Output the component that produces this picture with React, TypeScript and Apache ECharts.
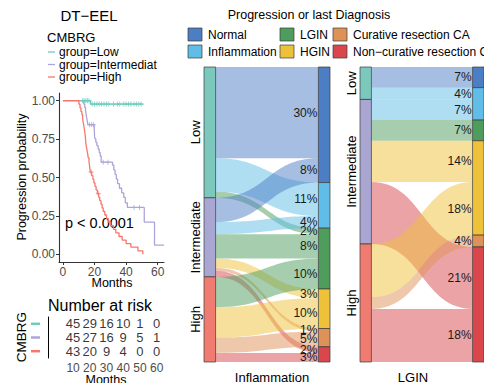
import React, { useEffect, useRef } from 'react';
import * as echarts from 'echarts';

const FONT = '"Liberation Sans", Arial, Helvetica, sans-serif';

// ---------- Kaplan–Meier: progression-free probability by CMBRG group ----------
const groupNames = ['Low', 'Intermediate', 'High'];
const groupColors = ['#6FCBBE', '#ADA5DA', '#F8766D'];

const lowTimes = [0, 17.5, 51];
const lowSurv = [1, 0.978, 0.978];
const lowCensor = [12.5, 13.5, 14.5, 15.5, 16.5, 18.5, 20, 21.5, 23, 24.5, 26, 27.5, 29, 32, 34.5, 36, 38.5, 40, 41.5, 43, 45, 46.5, 48, 49.5];

const intTimes = [0, 13.2, 13.8, 14.3, 14.7, 15.0, 15.4, 15.8, 19.8, 19.9, 20.0, 20.2, 20.8, 21.5, 22.3, 23.0, 23.6, 24.2, 31.4, 32.2, 33.0, 33.8, 34.6, 35.8, 37.2, 38.5, 39.5, 40.8, 51.5, 58, 64];
const intSurv = [1, 0.978, 0.956, 0.933, 0.911, 0.889, 0.867, 0.844, 0.82, 0.797, 0.775, 0.752, 0.73, 0.707, 0.685, 0.662, 0.64, 0.6, 0.58, 0.55, 0.52, 0.49, 0.46, 0.43, 0.4, 0.37, 0.335, 0.305, 0.21, 0.06, 0.06];
const intCensor = [16.8, 18.2, 19.3, 25.5, 28.5, 45, 48.5];

const highTimes = [0, 10.1, 10.8, 11.4, 12.0, 12.5, 12.8, 13.2, 13.6, 13.9, 14.2, 14.5, 14.9, 15.3, 15.7, 16.0, 16.5, 16.8, 17.0, 17.4, 18.2, 19.0, 19.6, 20.3, 21.0, 21.8, 22.6, 23.3, 24.1, 24.8, 25.5, 26.5, 27.6, 28.7, 30.2, 32.0, 33.5, 35.5, 37.5, 40.0, 43.0, 47.5, 50.6];
const highSurv = [1, 0.977, 0.953, 0.93, 0.907, 0.884, 0.86, 0.837, 0.814, 0.791, 0.767, 0.721, 0.698, 0.674, 0.651, 0.628, 0.605, 0.581, 0.558, 0.535, 0.512, 0.488, 0.465, 0.442, 0.419, 0.395, 0.372, 0.349, 0.326, 0.302, 0.279, 0.256, 0.233, 0.209, 0.186, 0.163, 0.14, 0.116, 0.093, 0.07, 0.047, 0.023, 0];
const highCensor = [17.8, 22.4];

const kmTicksX = [0, 20, 40, 60];
const kmTicksY = [0, 0.25, 0.5, 0.75, 1];

// ---------- Number at risk ----------
const riskTimes = [10, 20, 30, 40, 50, 60];
const riskLow = [45, 29, 16, 10, 1, 0];
const riskIntermediate = [45, 27, 16, 9, 5, 1];
const riskHigh = [43, 20, 9, 4, 0, 0];

// ---------- Alluvial panels (percent of patients) ----------
const diagnoses = ['Normal', 'Inflammation', 'LGIN', 'HGIN', 'Curative resection CA', 'Non\u2212curative resection CA'];
const diagnosisColors = ['#4C7EC3', '#5FBDE8', '#4E9D5D', '#EDC13A', '#DF9257', '#D9474C'];
const strataColors = ['#7CC8BD', '#A9A6D2', '#EF7B71'];

// rows: Low, Intermediate, High; columns follow `diagnoses`
const inflLow = [30, 11, 2, 0, 0, 0];
const inflIntermediate = [8, 4, 8, 3, 1, 2];
const inflHigh = [0, 0, 10, 10, 5, 3];

const lginLow = [7, 4, 0, 0, 0, 0];
const lginIntermediate = [0, 7, 7, 14, 0, 21];
const lginHigh = [0, 0, 0, 18, 4, 18];

const NODE_FRAC = 0.092;

function stepAt(times: number[], surv: number[], t: number) {
  let s = surv[0];
  for (let i = 0; i < times.length; i++) if (times[i] <= t) s = surv[i];
  return s;
}

function buildAlluvium(matrix: number[][]) {
  const flows: number[][] = [];
  const nodes: number[][] = [];
  const srcStart: number[][] = [];
  let y = 0;
  matrix.forEach((row, s) => {
    const top = y;
    srcStart[s] = row.map((v) => {
      const a = y;
      y += v;
      return a;
    });
    nodes.push([0, top, y, s]);
  });
  const tgtStart = matrix.map((r) => r.map(() => 0));
  let yr = 0;
  for (let d = 0; d < diagnoses.length; d++) {
    const top = yr;
    for (let s = 0; s < matrix.length; s++) {
      tgtStart[s][d] = yr;
      yr += matrix[s][d];
    }
    if (yr > top) nodes.push([1, top, yr, d]);
  }
  matrix.forEach((row, s) =>
    row.forEach((v, d) => {
      if (v > 0) flows.push([srcStart[s][d], srcStart[s][d] + v, tgtStart[s][d], tgtStart[s][d] + v, d, v]);
    })
  );
  return { flows, nodes, total: y };
}

function alluvialSeries(matrix: number[][], axis: number): any[] {
  const { flows, nodes } = buildAlluvium(matrix);
  const base = { type: 'custom', coordinateSystem: 'cartesian2d', xAxisIndex: axis, yAxisIndex: axis, clip: false, silent: true };
  return [
    {
      ...base,
      z: 2,
      data: flows,
      renderItem: (_p: any, api: any) => {
        const xL = api.coord([NODE_FRAC, 0])[0];
        const xR = api.coord([1 - NODE_FRAC, 0])[0];
        const ys0 = api.coord([0, api.value(0)])[1];
        const ys1 = api.coord([0, api.value(1)])[1];
        const yt0 = api.coord([0, api.value(2)])[1];
        const yt1 = api.coord([0, api.value(3)])[1];
        const xm = (xL + xR) / 2;
        const N = 32;
        const top: number[][] = [];
        const bot: number[][] = [];
        for (let i = 0; i <= N; i++) {
          const t = i / N;
          const u = 1 - t;
          const x = xL * u * u * u + xm * (3 * u * u * t + 3 * u * t * t) + xR * t * t * t;
          const b0 = u * u * u + 3 * u * u * t;
          top.push([x, ys0 * b0 + yt0 * (1 - b0)]);
          bot.push([x, ys1 * b0 + yt1 * (1 - b0)]);
        }
        const color = diagnosisColors[api.value(4)];
        return {
          type: 'polygon',
          shape: { points: top.concat(bot.reverse()) },
          style: { fill: echarts.color.modifyAlpha(color, 0.5) },
        };
      },
    },
    {
      ...base,
      z: 3,
      data: nodes,
      renderItem: (_p: any, api: any) => {
        const col = api.value(0);
        const idx = api.value(3);
        const x0 = api.coord([col === 0 ? 0 : 1 - NODE_FRAC, 0])[0];
        const x1 = api.coord([col === 0 ? NODE_FRAC : 1, 0])[0];
        const y0 = api.coord([0, api.value(1)])[1];
        const y1 = api.coord([0, api.value(2)])[1];
        const children: any[] = [
          {
            type: 'rect',
            shape: { x: x0, y: y0, width: x1 - x0, height: y1 - y0 },
            style: { fill: col === 0 ? strataColors[idx] : diagnosisColors[idx], stroke: '#3a3a3a', lineWidth: 0.7 },
          },
        ];
        if (col === 0) {
          children.push({
            type: 'text',
            x: x0 - 9,
            y: (y0 + y1) / 2,
            rotation: Math.PI / 2,
            style: {
              text: groupNames[idx],
              fill: '#000',
              fontSize: 13,
              fontFamily: FONT,
              align: 'center',
              verticalAlign: 'middle',
              textAlign: 'center',
              textVerticalAlign: 'middle',
            },
          });
        }
        return { type: 'group', children };
      },
    },
    {
      ...base,
      z: 4,
      data: flows,
      renderItem: (_p: any, api: any) => {
        const xR = api.coord([1 - NODE_FRAC, 0])[0];
        const yt0 = api.coord([0, api.value(2)])[1];
        const yt1 = api.coord([0, api.value(3)])[1];
        return {
          type: 'text',
          x: xR - 1,
          y: (yt0 + yt1) / 2,
          style: {
            text: `${api.value(5)}%`,
            fill: '#1a1a1a',
            fontSize: 12,
            fontFamily: FONT,
            align: 'right',
            verticalAlign: 'middle',
            textAlign: 'right',
            textVerticalAlign: 'middle',
          },
        };
      },
    },
  ];
}

function txt(text: string, x: number, y: number, size: number, opts: any = {}) {
  return {
    type: 'text',
    x,
    y,
    rotation: opts.rotation || 0,
    silent: true,
    style: {
      text,
      fill: opts.fill || '#000',
      fontSize: size,
      fontFamily: FONT,
      align: opts.align || 'center',
      verticalAlign: 'middle',
      textAlign: opts.align || 'center',
      textVerticalAlign: 'middle',
    },
  };
}

function buildOption(): any {
  const kmCurves = [
    [lowTimes, lowSurv, lowCensor],
    [intTimes, intSurv, intCensor],
    [highTimes, highSurv, highCensor],
  ] as number[][][];

  const kmSeries: any[] = [];
  kmCurves.forEach(([times, surv, censor], g) => {
    kmSeries.push({
      type: 'line',
      xAxisIndex: 0,
      yAxisIndex: 0,
      step: 'end',
      showSymbol: false,
      silent: true,
      lineStyle: { color: groupColors[g], width: 1.3 },
      data: times.map((t, i) => [t, surv[i]]),
      z: 3,
    });
    kmSeries.push({
      type: 'scatter',
      xAxisIndex: 0,
      yAxisIndex: 0,
      silent: true,
      symbol: 'path://M4,0H6V4H10V6H6V10H4V6H0V4H4Z',
      symbolSize: 5,
      itemStyle: { color: groupColors[g] },
      data: censor.map((t) => [t, stepAt(times, surv, t)]),
      z: 4,
    });
  });

  const riskRows = [riskLow, riskIntermediate, riskHigh];
  const riskSeries = {
    type: 'scatter',
    xAxisIndex: 1,
    yAxisIndex: 1,
    symbolSize: 0,
    silent: true,
    label: {
      show: true,
      position: 'inside',
      formatter: (p: any) => String(p.value[2]),
      color: '#000',
      fontSize: 13,
      fontFamily: FONT,
    },
    data: riskRows.flatMap((row, g) => row.map((n, i) => [riskTimes[i], groupNames[g], n])),
  };

  const legendItems = diagnoses.map((d, i) => {
    const col = Math.floor(i / 2);
    const row = i % 2;
    const keyX = [188, 280, 333][col];
    const y = [34.5, 51.5][row];
    return [
      {
        type: 'rect',
        silent: true,
        shape: { x: keyX, y: y - 6.5, width: 14, height: 13 },
        style: { fill: diagnosisColors[i], stroke: '#3a3a3a', lineWidth: 0.7 },
      },
      txt(d === diagnoses[5] ? 'Non\u2212curative resection C' : d, keyX + 20, y, 12, { align: 'left' }),
    ];
  });
  // legend order: column-wise (Normal/Inflammation, LGIN/HGIN, Curative/Non-curative)
  const legendFlat = legendItems.flat();

  const kmLegend = groupNames.flatMap((g, i) => {
    const y = 52 + i * 12.5;
    return [
      {
        type: 'line',
        silent: true,
        shape: { x1: 48, y1: y, x2: 55, y2: y },
        style: { stroke: groupColors[i], lineWidth: 1.3 },
      },
      txt(`group=${g === 'Intermediate' ? 'Intermediat' : g}`, 59, y, 12, { align: 'left' }),
    ];
  });

  const riskKeys = groupNames.map((_, i) => ({
    type: 'line',
    silent: true,
    shape: { x1: 31, y1: 323.8 + i * 13.7, x2: 40, y2: 323.8 + i * 13.7 },
    style: { stroke: groupColors[i], lineWidth: 2.5 },
  }));

  const hiddenAxis = { type: 'value', show: false, min: 0, max: 1 };

  return {
    animation: false,
    backgroundColor: '#ffffff',
    textStyle: { fontFamily: FONT },
    grid: [
      { left: 59, top: 93, width: 105, height: 169 },
      { left: 48, top: 317, width: 117, height: 41 },
      { left: 204, top: 67, width: 126, height: 295 },
      { left: 360, top: 67, width: 126, height: 295 },
    ],
    xAxis: [
      {
        type: 'value',
        gridIndex: 0,
        min: -2.5,
        max: 64,
        splitLine: { show: false },
        axisLine: { onZero: false, lineStyle: { color: '#333', width: 1.1 } },
        axisTick: { customValues: kmTicksX, length: 3, lineStyle: { color: '#333' } },
        axisLabel: { customValues: kmTicksX, color: '#4D4D4D', fontSize: 12, margin: 4 },
      },
      {
        type: 'value',
        gridIndex: 1,
        min: -5,
        max: 65,
        splitLine: { show: false },
        axisLine: { onZero: false, lineStyle: { color: '#000', width: 1 } },
        axisTick: { show: false },
        axisLabel: { customValues: riskTimes, color: '#4D4D4D', fontSize: 12, margin: 4 },
      },
      { ...hiddenAxis, gridIndex: 2 },
      { ...hiddenAxis, gridIndex: 3 },
    ],
    yAxis: [
      {
        type: 'value',
        gridIndex: 0,
        min: -0.05,
        max: 1.05,
        splitLine: { show: false },
        axisLine: { show: true, onZero: false, lineStyle: { color: '#333', width: 1.1 } },
        axisTick: { show: true, customValues: kmTicksY, length: 3, lineStyle: { color: '#333' } },
        axisLabel: { customValues: kmTicksY, color: '#4D4D4D', fontSize: 12, margin: 4, formatter: (v: number) => v.toFixed(2) },
      },
      {
        type: 'category',
        gridIndex: 1,
        inverse: true,
        data: groupNames,
        axisLine: { show: true, onZero: false, lineStyle: { color: '#000', width: 1 } },
        axisTick: { show: false },
        axisLabel: { show: false },
      },
      { type: 'value', gridIndex: 2, show: false, min: 0, max: buildAlluvium([inflLow, inflIntermediate, inflHigh]).total, inverse: true },
      { type: 'value', gridIndex: 3, show: false, min: 0, max: buildAlluvium([lginLow, lginIntermediate, lginHigh]).total, inverse: true },
    ],
    series: [
      ...kmSeries,
      riskSeries,
      ...alluvialSeries([inflLow, inflIntermediate, inflHigh], 2),
      ...alluvialSeries([lginLow, lginIntermediate, lginHigh], 3),
    ],
    graphic: {
      elements: [
        txt('DT\u2212EEL', 89, 15, 15),
        txt('CMBRG', 47, 37, 13, { align: 'left' }),
        ...kmLegend,
        txt('Progression probability', 22, 177, 12.5, { rotation: Math.PI / 2 }),
        txt('Months', 112, 283, 12.5),
        txt('p < 0.0001', 65, 223, 14.5, { align: 'left' }),
        txt('Number at risk', 100, 305, 16),
        txt('CMBRG', 21, 337, 13.5, { rotation: Math.PI / 2 }),
        ...riskKeys,
        txt('Months', 106, 380, 12.5),
        txt('Progression or last Diagnosis', 309, 15, 12.5),
        ...legendFlat,
        txt('Inflammation', 272, 377, 13),
        txt('LGIN', 413, 377, 13),
      ],
    },
  };
}

export default function App() {
  const ref = useRef<HTMLDivElement>(null);
  useEffect(() => {
    if (!ref.current) return;
    const chart = echarts.init(ref.current, null, { renderer: 'svg' });
    chart.setOption(buildOption());
    return () => chart.dispose();
  }, []);
  return <div ref={ref} style={{ position: 'absolute', left: 0, top: 0, width: 484, height: 383 }} />;
}
